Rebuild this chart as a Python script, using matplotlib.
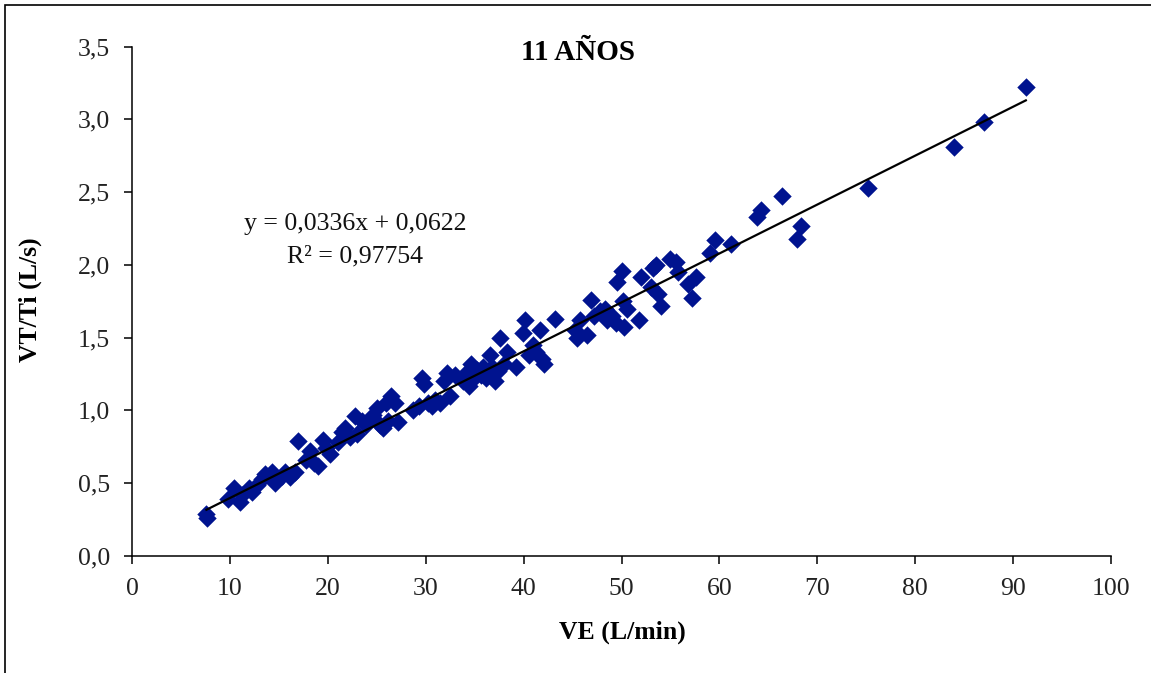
import matplotlib
matplotlib.use("Agg")
import matplotlib.pyplot as plt
from matplotlib.patches import Rectangle
from matplotlib.ticker import FuncFormatter, MultipleLocator
import numpy as np

# VE (L/min) and VT/Ti (L/s) measurements, 11-year-old group
ve = [7.6, 7.7, 9.8, 10.4, 11.0, 11.2,
      12.0, 12.3, 12.8, 13.3, 13.6, 14.0, 14.3, 14.6, 14.9, 15.3, 15.6, 16.1, 16.6, 17.0,
      17.8, 18.2, 18.6, 19.0, 19.5, 19.8, 20.2, 21.0, 21.5, 21.8, 22.3, 22.8, 23.0, 23.5, 23.9,
      24.6, 25.0, 25.3, 25.6, 25.9, 26.2, 26.5, 26.9, 27.2,
      28.7, 29.3, 29.6, 29.8, 30.2, 30.6, 31.0, 31.5, 31.9, 32.2, 32.5, 33.0,
      33.8, 34.1, 34.4, 34.6, 34.9, 35.2, 35.6, 35.9, 36.2, 36.6, 36.8, 37.1, 37.4, 37.6, 38.0, 38.3,
      39.2, 39.9, 40.1, 40.6, 41.0, 41.3, 41.7, 41.9, 42.1, 43.2,
      45.2, 45.5, 45.8, 46.5, 46.9, 47.2, 47.8, 48.3, 48.5, 49.0, 49.4, 49.5, 50.0, 50.2, 50.3, 50.6,
      51.8, 52.0, 53.0, 53.2, 53.5, 53.7, 54.0, 55.0, 55.6, 55.8, 56.8, 57.2, 57.6,
      59.0, 59.5, 61.2, 63.8, 64.3, 66.4, 67.9, 68.3,
      75.2, 84.0, 87.0, 91.3]
vt_ti = [0.29, 0.26, 0.39, 0.47, 0.37, 0.42,
         0.47, 0.44, 0.49, 0.53, 0.56, 0.55, 0.58, 0.50, 0.53, 0.55, 0.58, 0.54, 0.58, 0.79,
         0.66, 0.72, 0.64, 0.62, 0.80, 0.74, 0.70, 0.78, 0.85, 0.88, 0.82, 0.96, 0.84, 0.93, 0.90,
         0.97, 1.02, 0.90, 0.88, 1.05, 0.93, 1.10, 1.05, 0.92,
         1.00, 1.03, 1.22, 1.18, 1.05, 1.03, 1.07, 1.05, 1.20, 1.26, 1.10, 1.24,
         1.20, 1.26, 1.17, 1.32, 1.22, 1.28, 1.24, 1.30, 1.22, 1.38, 1.30, 1.20, 1.27, 1.50, 1.32, 1.40,
         1.30, 1.53, 1.62, 1.38, 1.45, 1.40, 1.55, 1.35, 1.32, 1.63,
         1.55, 1.50, 1.62, 1.52, 1.76, 1.65, 1.68, 1.70, 1.62, 1.65, 1.60, 1.88, 1.96, 1.75, 1.57, 1.70,
         1.62, 1.92, 1.85, 1.98, 2.00, 1.80, 1.72, 2.04, 2.02, 1.95, 1.87, 1.77, 1.92,
         2.08, 2.17, 2.14, 2.33, 2.38, 2.47, 2.18, 2.27,
         2.53, 2.81, 2.98, 3.22]

# Linear trend line parameters
slope = 0.0336
intercept = 0.0622
r_squared = 0.97754

title = "11 AÑOS"
x_label = "VE (L/min)"
y_label = "VT/Ti (L/s)"

plt.rcParams['font.family'] = ['Liberation Serif', 'DejaVu Serif']

W, H = 1151, 673
fig = plt.figure(figsize=(W / 100, H / 100), dpi=100)
ax_l, ax_r, ax_t, ax_b = 132, 1111, 46.5, 556
ax = fig.add_axes([ax_l / W, 1 - ax_b / H, (ax_r - ax_l) / W, (ax_b - ax_t) / H])

ax.scatter(ve, vt_ti, marker='D', s=88, color='#00138f', linewidths=0, zorder=3)

xs = np.array([min(ve), max(ve)])
ax.plot(xs, slope * xs + intercept, color='black', lw=1.6, zorder=4)

ax.set_xlim(0, 100)
ax.set_ylim(0, 3.5)
ax.xaxis.set_major_locator(MultipleLocator(10))
ax.yaxis.set_major_locator(MultipleLocator(0.5))
ax.xaxis.set_major_formatter(FuncFormatter(lambda v, p: f"{v:.0f}"))
ax.yaxis.set_major_formatter(FuncFormatter(lambda v, p: f"{v:.1f}".replace('.', ',')))

for side in ('top', 'right'):
    ax.spines[side].set_visible(False)
for side in ('left', 'bottom'):
    ax.spines[side].set_linewidth(1.1)
    ax.spines[side].set_color('black')
ax.tick_params(axis='both', direction='out', length=6, width=1.1, color='black',
               labelsize=18.5, labelcolor='#222222')
ax.tick_params(axis='y', pad=10)
ax.tick_params(axis='x', pad=10)

ax.set_xlabel(x_label, fontsize=18.5, fontweight='bold', va='center')
ax.set_ylabel(y_label, fontsize=18.5, fontweight='bold', va='center')
ax.xaxis.set_label_coords((622 - ax_l) / (ax_r - ax_l), (ax_b - 632) / (ax_b - ax_t))
ax.yaxis.set_label_coords((30 - ax_l) / (ax_r - ax_l), (ax_b - 300) / (ax_b - ax_t))

fig.text(578 / W, 1 - 52 / H, title, fontsize=21, fontweight='bold',
         ha='center', va='center')

eq = f"y = {slope:.4f}x + {intercept:.4f}".replace('.', ',')
r2 = f"R² = {r_squared:.5f}".replace('.', ',')
fig.text(355 / W, 1 - 224 / H, eq, fontsize=18.5, ha='center', va='center', color='#111111')
fig.text(355 / W, 1 - 256 / H, r2, fontsize=18.5, ha='center', va='center', color='#111111')

# Outer frame around the chart area
fig.patches.append(Rectangle((5 / W, -0.05), 1.1, 1 - 5 / H + 0.05,
                             transform=fig.transFigure, fill=False,
                             edgecolor='black', lw=1.2, zorder=10))

fig.savefig("out.png", dpi=100)
